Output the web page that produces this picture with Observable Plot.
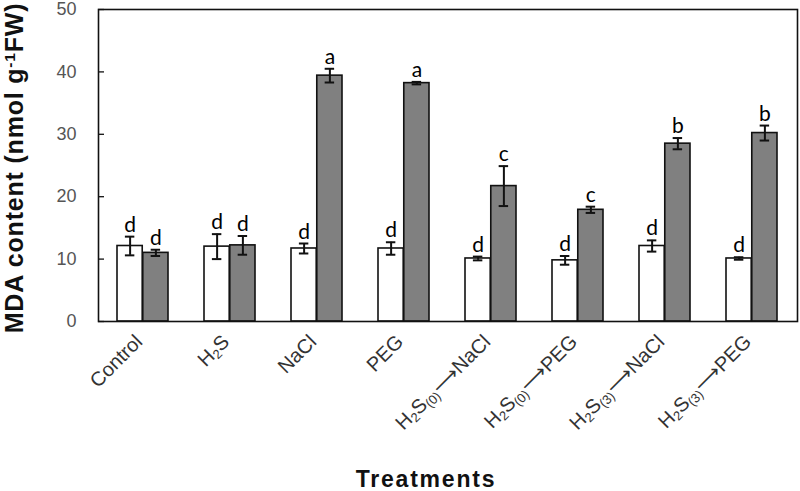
<!DOCTYPE html>
<html>
<head>
<meta charset="utf-8">
<script src="https://cdn.jsdelivr.net/npm/d3@7"></script>
<script src="https://cdn.jsdelivr.net/npm/@observablehq/plot@0.6"></script>
<style>
  html, body { margin: 0; padding: 0; background: #fff; }
  #chart { width: 800px; height: 491px; }
</style>
</head>
<body>
<div id="chart"></div>
<script>
// ---- data ----
const categories = ["Control", "H2S", "NaCl", "PEG", "H2S(0)→NaCl", "H2S(0)→PEG", "H2S(3)→NaCl", "H2S(3)→PEG"];
// tick labels with subscript markup
const tickLabels = ["Control", "H_{2}S", "NaCl", "PEG", "H_{2}S_{(0)}⟶NaCl", "H_{2}S_{(0)}⟶PEG", "H_{2}S_{(3)}⟶NaCl", "H_{2}S_{(3)}⟶PEG"];
const openMeans   = [12.1, 12.0, 11.7, 11.7, 10.1, 9.8, 12.1, 10.1];
const openErr     = [1.5, 2.0, 0.8, 1.0, 0.3, 0.7, 0.9, 0.2];
const filledMeans = [11.0, 12.2, 39.4, 38.2, 21.7, 17.9, 28.5, 30.2];
const filledErr   = [0.5, 1.5, 1.1, 0.2, 3.2, 0.5, 0.9, 1.2];
const openLetters   = ["d", "d", "d", "d", "d", "d", "d", "d"];
const filledLetters = ["d", "d", "a", "a", "c", "c", "b", "b"];
const yTicks = [0, 10, 20, 30, 40, 50];

const openData = categories.map((c, i) => ({cat: c, v: openMeans[i], lo: openMeans[i] - openErr[i], hi: openMeans[i] + openErr[i], letter: openLetters[i]}));
const filledData = categories.map((c, i) => ({cat: c, v: filledMeans[i], lo: filledMeans[i] - filledErr[i], hi: filledMeans[i] + filledErr[i], letter: filledLetters[i]}));

// ---- layout ----
const W = 800, H = 491;
const mL = 98, mR = 3, mT = 9, mB = 170;
const pIn = 0.41, pOut = 0.205;
const innerW = W - mL - mR;
const step = innerW / (categories.length - pIn + 2 * pOut);
const bw = step * (1 - pIn);
const half = bw / 2;
const capW = 10;
const capInsetNear = half / 2 - capW / 2;
const capInsetFar = bw - (half / 2 + capW / 2);
const letterFont = "Lato, 'Open Sans', sans-serif";

const plot = Plot.plot({
  width: W, height: H,
  marginLeft: mL, marginRight: mR, marginTop: mT, marginBottom: mB,
  style: {fontFamily: "'Liberation Sans', Arial, sans-serif", fontSize: "18px", background: "#fff"},
  x: {type: "band", domain: categories, paddingInner: pIn, paddingOuter: pOut, align: 0.5,
      tickSize: 0, tickRotate: -45, tickPadding: 12, label: null},
  y: {domain: [0, 50], axis: null},
  marks: [
    // y axis: inward ticks and labels
    Plot.tickY(yTicks, {y: d => d, insetRight: innerW - 6, stroke: "#111", strokeWidth: 1.3}),
    Plot.text(yTicks, {y: d => d, text: d => String(d), frameAnchor: "left", textAnchor: "end", dx: -22,
      fill: "#555", fontSize: 18, fontFamily: "'Liberation Sans', Arial, sans-serif"}),
    Plot.barY(openData, {x: "cat", y: "v", fill: "#ffffff", stroke: "#111", strokeWidth: 1.6, insetRight: half}),
    Plot.barY(filledData, {x: "cat", y: "v", fill: "#808080", stroke: "#111", strokeWidth: 1.6, insetLeft: half}),
    // error bars
    Plot.ruleX(openData, {x: "cat", y1: "lo", y2: "hi", dx: -half / 2, stroke: "#111", strokeWidth: 2}),
    Plot.ruleX(filledData, {x: "cat", y1: "lo", y2: "hi", dx: half / 2, stroke: "#111", strokeWidth: 2}),
    Plot.tickY(openData, {x: "cat", y: "hi", insetLeft: capInsetNear, insetRight: capInsetFar, stroke: "#111", strokeWidth: 2}),
    Plot.tickY(openData, {x: "cat", y: "lo", insetLeft: capInsetNear, insetRight: capInsetFar, stroke: "#111", strokeWidth: 2}),
    Plot.tickY(filledData, {x: "cat", y: "hi", insetLeft: capInsetFar, insetRight: capInsetNear, stroke: "#111", strokeWidth: 2}),
    Plot.tickY(filledData, {x: "cat", y: "lo", insetLeft: capInsetFar, insetRight: capInsetNear, stroke: "#111", strokeWidth: 2}),
    // significance letters
    Plot.text(openData, {x: "cat", y: "hi", text: "letter", dx: -half / 2, dy: -5, lineAnchor: "bottom",
      fontSize: 21, fill: "#000", fontFamily: letterFont}),
    Plot.text(filledData, {x: "cat", y: "hi", text: "letter", dx: half / 2, dy: -5, lineAnchor: "bottom",
      fontSize: 21, fill: "#000", fontFamily: letterFont}),
    Plot.frame({stroke: "#111", strokeWidth: 1.6})
  ]
});

document.getElementById("chart").appendChild(plot);

const svg = d3.select(plot);
const labelMap = new Map(categories.map((c, i) => [c, tickLabels[i]]));

function shift(el, dx, dy) {
  const t = el.attr("transform") || "";
  el.attr("transform", `translate(${dx},${dy}) ${t}`);
}

// x tick labels with subscripts
svg.selectAll("text").each(function () {
  const t = this.textContent;
  const el = d3.select(this);
  if (labelMap.has(t) && this.children.length === 0) {
    const markup = labelMap.get(t);
    el.text(null).attr("fill", "#333").style("font-size", "20px");
    const parts = markup.split(/(_\{[^}]*\})/).filter(s => s.length);
    for (const p of parts) {
      if (p.startsWith("_{")) {
        el.append("tspan").attr("baseline-shift", "-3px").style("font-size", "13px").text(p.slice(2, -1));
      } else {
        el.append("tspan").text(p);
      }
    }
    shift(el, -4, 5);
  }
});

// axis titles
const yl = svg.append("text")
  .attr("transform", `translate(23,${(mT + (H - mB)) / 2 + 3}) rotate(-90)`)
  .attr("text-anchor", "middle")
  .attr("font-family", "'Liberation Sans', Arial, sans-serif")
  .attr("font-weight", "bold")
  .attr("font-size", 25)
  .attr("letter-spacing", "0.8px")
  .attr("fill", "#111");
yl.append("tspan").text("MDA content (nmol g");
yl.append("tspan").attr("baseline-shift", "super").attr("font-size", "0.62em").text("-1");
yl.append("tspan").text("FW)");

svg.append("text")
  .attr("x", 426)
  .attr("y", 487)
  .attr("text-anchor", "middle")
  .attr("font-family", "'Liberation Sans', Arial, sans-serif")
  .attr("font-weight", "bold")
  .attr("font-size", 23)
  .attr("letter-spacing", "1.8px")
  .attr("fill", "#111")
  .text("Treatments");
</script>
</body>
</html>
